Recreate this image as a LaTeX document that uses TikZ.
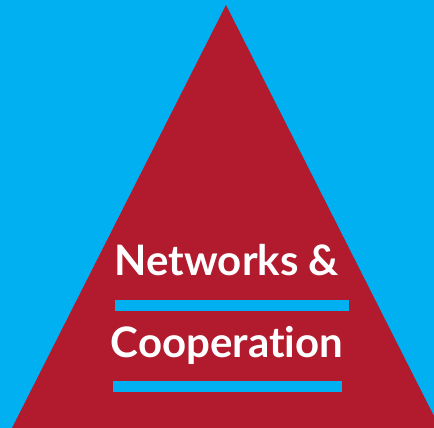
\documentclass[tikz,border=0pt]{standalone}
\usepackage{fontspec}
\setsansfont{Lato}[Ligatures=NoCommon]
\definecolor{skyblue}{RGB}{0,176,240}
\definecolor{pyramidred}{RGB}{178,26,46}
\tikzset{
    label/.style={text=white, font=\sffamily\bfseries\fontsize{42}{44}\selectfont, anchor=base, inner sep=0pt},
    bar/.style={fill=skyblue, draw=none}
}
\begin{document}
\begin{tikzpicture}[x=1pt, y=-1pt]
    % background
    \fill[skyblue] (0,0) rectangle (434,428);
    \useasboundingbox (0,0) rectangle (434,428);
    
    % pyramid
    \coordinate (apex) at (226,5);
    \fill[pyramidred] (apex) -- (12,428) -- (440,428) -- cycle;
    
    \node[label] (networks) at (227,275) {Networks \&};
    \fill[bar] (115,300) rectangle (349,311);
    
    \node[label] (cooperation) at (227,357) {Cooperation};
    \fill[bar] (113,381) rectangle (342,392);
    
\end{tikzpicture}
\end{document}
